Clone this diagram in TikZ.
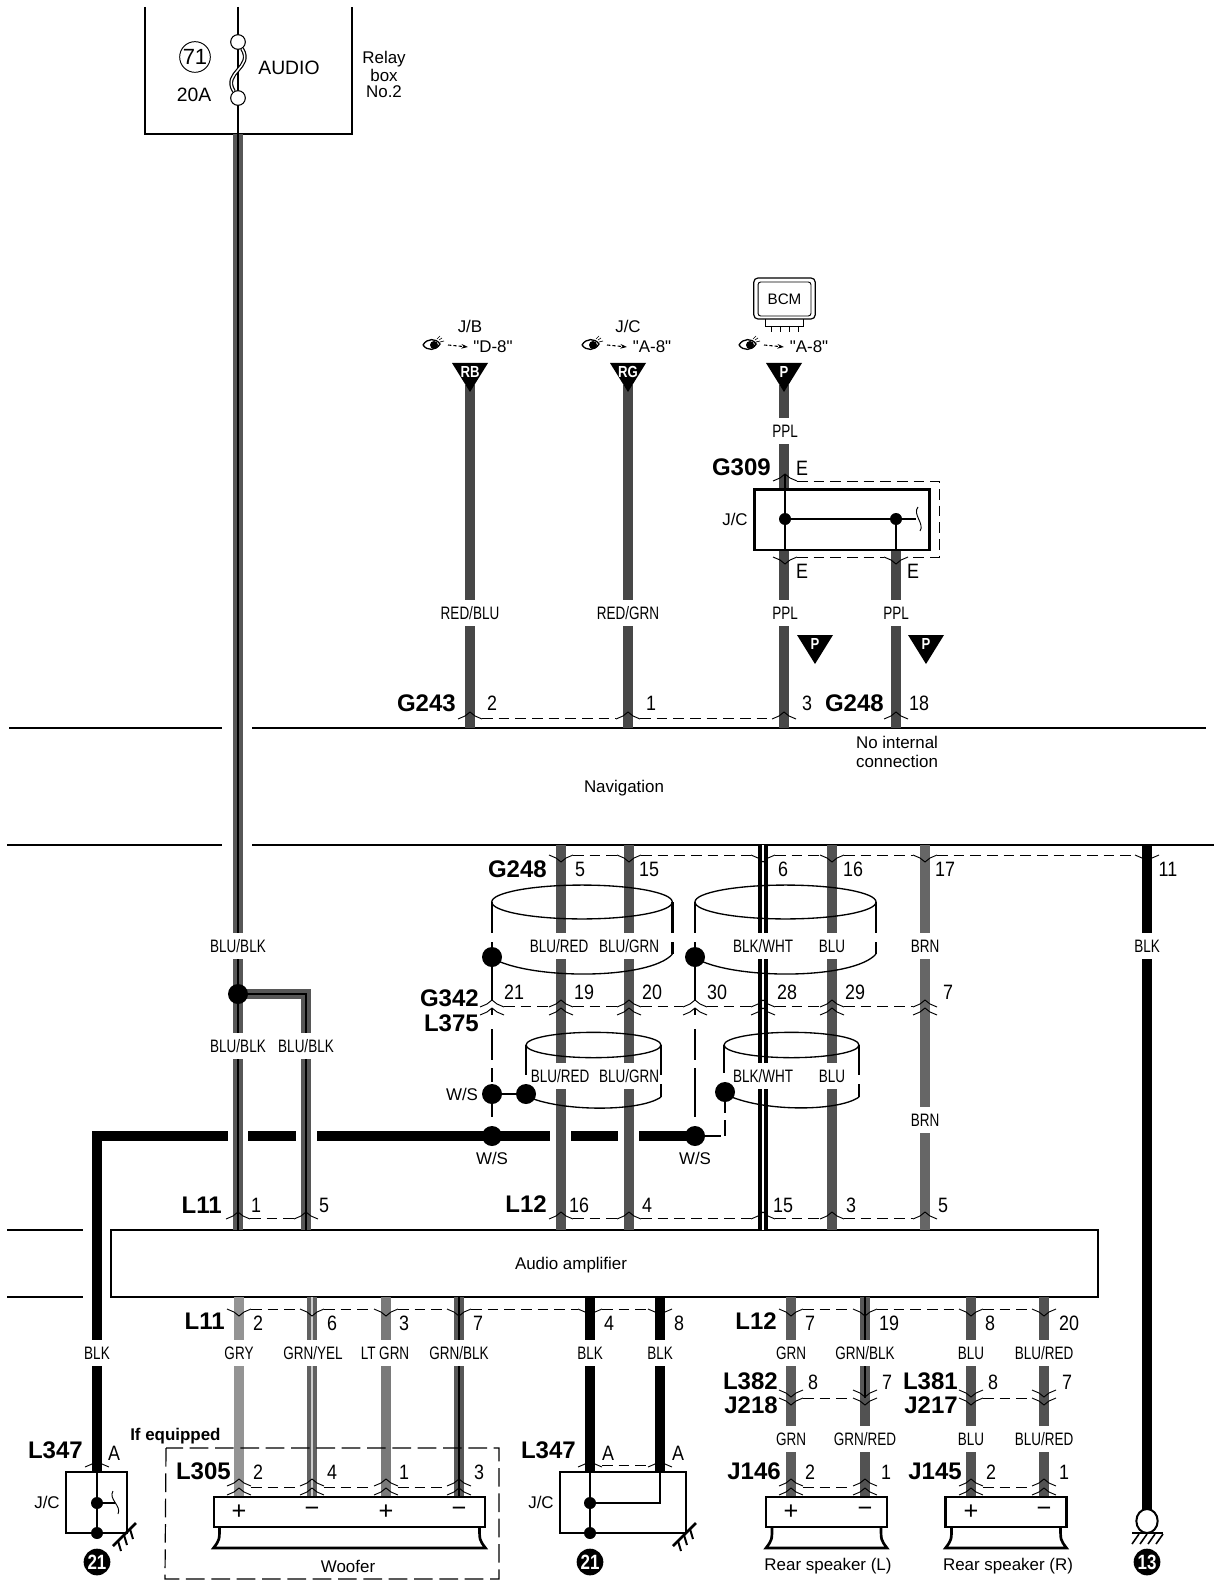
\documentclass[tikz,border=0pt]{standalone}
\usepackage{fontspec}
\usetikzlibrary{arrows.meta,shapes.geometric}
\setmainfont{Liberation Sans}
\newfontfamily\plainf{Liberation Sans}
\newfontfamily\narrowf[FakeStretch=0.75]{Liberation Sans}
\newfontfamily\numf[FakeStretch=0.86]{Liberation Sans}
\newfontfamily\badgef[FakeStretch=0.82]{Liberation Sans}
\newcommand{\fsz}[1]{\fontsize{#1}{#1}\selectfont}
\newcounter{nn}
\tikzset{
  wblue/.style={line width=8.2pt,draw=black!68},
  wppl/.style={line width=8.2pt,draw=black!72},
  wbrn/.style={line width=8.2pt,draw=black!60},
  wgrn/.style={line width=8.2pt,draw=black!64},
  wgry/.style={line width=8.2pt,draw=black!42},
  wlt/.style={line width=8.2pt,draw=black!52},
  wblk/.style={line width=8pt,draw=black},
  wstripe/.style={line width=3.1pt,draw=black!66,double=black,double distance=2pt},
  wwhite/.style={line width=3.2pt,draw=black,double=white,double distance=1.6pt},
  wyel/.style={line width=3.3pt,draw=black!62,double=black!20,double distance=1.4pt},
  wthin/.style={line width=1pt,draw=black},
  chev/.style={line width=.7pt,draw=black},
  dashc/.style={line width=.7pt,draw=black,dash pattern=on 8pt off 4.5pt},
  side/.style={line width=1.8pt,draw=black},
  shell/.style={line width=1pt,draw=black},
  boxl/.style={line width=2pt,draw=black},
  rule/.style={line width=1.5pt,draw=black},
  wlab/.style={fill=white,inner xsep=1pt,inner ysep=0pt,minimum height=19.5pt,font=\narrowf\fsz{13.5pt}},
  nlab/.style={inner sep=0pt,font=\numf\fsz{15.6pt}},
  blab/.style={inner sep=0pt,anchor=east,font=\bfseries\fsz{18pt}},
  tlab/.style={inner sep=0pt,font=\fsz{12.7pt},align=center},
  bigdot/.style={circle,fill=black,inner sep=0pt,minimum size=15pt},
  smalldot/.style={circle,fill=black,inner sep=0pt,minimum size=9pt},
  badge/.style={circle,fill=black,text=white,inner sep=0pt,minimum size=20pt,font=\badgef\bfseries\fsz{15.5pt}},
}
\newcommand{\wire}[5]{\coordinate (#1a) at (#3,#4);\coordinate (#1b) at (#3,#5);\draw[#2] (#1a) -- (#1b);}
\newcommand{\lab}[3]{\stepcounter{nn}\node[wlab] (lab\arabic{nn}) at (#1,#2) {#3};}
\newcommand{\nlabel}[3]{\stepcounter{nn}\node[nlab] (num\arabic{nn}) at (#1,#2) {#3};}
\newcommand{\blabel}[3]{\stepcounter{nn}\node[blab] (bold\arabic{nn}) at (#1,#2) {#3};}
\newcommand{\tlabel}[3]{\stepcounter{nn}\node[tlab] (txt\arabic{nn}) at (#1,#2) {#3};}
\newcommand{\chevup}[2]{\begin{scope}[shift={(#1,#2)}]\draw[chev] (-12,7) -- (-5,4) -- (0,0) -- (5,4) -- (12,7);\end{scope}}
\newcommand{\chevdn}[2]{\begin{scope}[shift={(#1,#2)}]\draw[chev] (-12,-7) -- (-5,-4) -- (0,0) -- (5,-4) -- (12,-7);\end{scope}}
\newcommand{\conn}[3]{\stepcounter{nn}\coordinate (ca\arabic{nn}) at ({#1+12},#3);\coordinate (cb\arabic{nn}) at ({#2-12},#3);\draw[dashc] (ca\arabic{nn}) -- (cb\arabic{nn});}
\newcommand{\eyemark}[1]{\begin{scope}[shift={#1}]
  \draw[line width=1pt,fill=white] (-9,0) .. controls (-5,-7) and (4,-7) .. (8,-1) .. controls (4,6) and (-5,6) .. (-9,0);
  \fill (2,0) circle[radius=3pt];
  \draw[line width=.5pt] (5,-6) -- (8,-9) (7,-5) -- (10,-7) (8,-3) -- (12,-4);
  \draw[-{Stealth[length=5pt,width=3.5pt]},line width=.8pt,dash pattern=on 2.5pt off 1.5pt] (16,0) -- (36,2);
\end{scope}}
\newcommand{\hatchmark}[1]{\begin{scope}[shift={#1}]
  \draw[line width=1.9pt] (0,0) -- (23,-23);
  \draw[line width=1.5pt] (5,-5) -- (8,5) (11,-11) -- (14,-1) (17,-17) -- (20,-7);
\end{scope}}
\newcommand{\cone}[2]{\draw[boxl] ({#1+6},1527) .. controls ({#1+6},1540) .. (#1,1548) -- (#2,1548) .. controls ({#2-6},1540) .. ({#2-6},1527);}
\newcommand{\tri}[3]{\stepcounter{nn}\fill (#1-18,#2) -- (#1+18,#2) -- (#1,#2+29) -- cycle;\node[inner sep=0pt,text=white,font=\badgef\bfseries\fsz{12pt}] (tri\arabic{nn}) at (#1,#2+9) {#3};}
\begin{document}
\begin{tikzpicture}[x=.75pt,y=-.75pt]
\useasboundingbox (0,0) rectangle (1214,1590);
\fill[white] (0,0) rectangle (1214,1590);

% ---- horizontal rules
\draw[rule] (9,728) -- (222,728) (252,728) -- (1206,728);
\draw[rule] (7,845) -- (222,845) (252,845) -- (1214,845);
\draw[rule] (7,1230) -- (83,1230) (7,1297) -- (83,1297);
\node[draw=black,line width=1.5pt,fill=white,inner sep=0pt,minimum width=740pt,minimum height=50.2pt] (amp) at (604.5,1263.5) {};
\node[tlab] (amptext) at (571,1265) {Audio amplifier};
\tlabel{624}{788}{Navigation}
\tlabel{897}{752}{No internal\\[1pt]connection}

% ---- relay box
\coordinate (rbl) at (145,7);\coordinate (rbr) at (352,7);
\draw[boxl] (rbl) -- (145,134) -- (352,134) -- (rbr);
\wire{main}{wstripe}{238}{134}{1230}
\coordinate (fa) at (238,7);\coordinate (fb) at (238,134);
\draw[line width=.9pt] (fa) -- (fb);
\node[circle,draw=black,fill=white,line width=.8pt,inner sep=0pt,minimum size=11pt] (fu1) at (238,42) {};
\node[circle,draw=black,fill=white,line width=.8pt,inner sep=0pt,minimum size=11pt] (fu2) at (238,98) {};
\draw[line width=.9pt,double=white,double distance=1.1pt] (fu1) .. controls (254,68) and (222,72) .. (fu2);
\node[circle,draw=black,line width=.7pt,inner sep=0pt,minimum size=23pt,font=\fsz{16.5pt}] (f71) at (195,57) {71};
\node[inner sep=0pt,font=\fsz{14.5pt}] (f20) at (194,95) {20A};
\node[inner sep=0pt,font=\fsz{14.5pt}] (fau) at (289,68) {AUDIO};
\tlabel{384}{59}{Relay}\tlabel{384}{75}{box}\tlabel{384}{92}{No.2}

% ---- branch
\coordinate (brA) at (238,994);\coordinate (brB) at (306,994);\coordinate (brC) at (306,1230);
\draw[wstripe] (brA) -- (brB) -- (brC);

% ---- thick black
\coordinate (k0) at (97,1472);\coordinate (k1) at (97,1136);\coordinate (k2) at (228,1136);
\draw[wblk] (k0) -- (k1) -- (k2);
\coordinate (k3) at (248,1136);\coordinate (k4) at (296,1136);\draw[wblk] (k3) -- (k4);
\coordinate (k5) at (317,1136);\coordinate (k6) at (550,1136);\draw[wblk] (k5) -- (k6);
\coordinate (k7) at (571,1136);\coordinate (k8) at (618,1136);\draw[wblk] (k7) -- (k8);
\coordinate (k9) at (639,1136);\coordinate (k10) at (695,1136);\draw[wblk] (k9) -- (k10);

% ---- upper wires
\wire{rb}{wppl}{470}{385}{728}
\wire{rg}{wppl}{628}{385}{728}
\wire{pa}{wppl}{784}{385}{489}
\wire{pb}{wppl}{784}{550}{728}
\wire{pc}{wppl}{896}{550}{728}
\tri{470}{363}{RB}\tri{628}{363}{RG}\tri{784}{363}{P}
\tri{815}{635}{P}\tri{926}{635}{P}

% ---- middle wires
\wire{m1}{wblue}{561}{845}{1230}
\wire{m2}{wblue}{629}{845}{1230}
\wire{m3}{wwhite}{763}{845}{1230}
\wire{m4}{wblue}{832}{845}{1230}
\wire{m5}{wbrn}{925}{845}{1230}
\wire{m6}{wblk}{1147}{845}{1510}

% ---- lower wires
\wire{l1}{wgry}{239}{1297}{1497}
\wire{l2}{wyel}{312}{1297}{1497}
\wire{l3}{wlt}{386}{1297}{1497}
\wire{l4}{wstripe}{459}{1297}{1497}
\wire{l5}{wblk}{590}{1297}{1472}
\wire{l6}{wblk}{660}{1297}{1472}
\wire{l7}{wgrn}{791}{1297}{1497}
\wire{l8b}{wblue}{865}{1398}{1497}
\wire{l8a}{wstripe}{865}{1297}{1398}
\wire{l9}{wblue}{971}{1297}{1497}
\wire{l10}{wblue}{1044}{1297}{1497}

% ---- wire labels
\lab{470}{613}{RED/BLU}\lab{628}{613}{RED/GRN}\lab{785}{613}{PPL}\lab{896}{613}{PPL}\lab{785}{431}{PPL}
\lab{238}{946}{BLU/BLK}\lab{238}{1046}{BLU/BLK}\lab{306}{1046}{BLU/BLK}
\lab{559}{946}{BLU/RED}\lab{629}{946}{BLU/GRN}\lab{763}{946}{BLK/WHT}\lab{832}{946}{BLU}\lab{925}{946}{BRN}\lab{1147}{946}{BLK}
\lab{560}{1076}{BLU/RED}\lab{629}{1076}{BLU/GRN}\lab{763}{1076}{BLK/WHT}\lab{832}{1076}{BLU}\lab{925}{1120}{BRN}
\lab{97}{1353}{BLK}\lab{239}{1353}{GRY}\lab{313}{1353}{GRN/YEL}\lab{385}{1353}{LT GRN}\lab{459}{1353}{GRN/BLK}
\lab{590}{1353}{BLK}\lab{660}{1353}{BLK}\lab{791}{1353}{GRN}\lab{865}{1353}{GRN/BLK}\lab{971}{1353}{BLU}\lab{1044}{1353}{BLU/RED}
\lab{791}{1439}{GRN}\lab{865}{1439}{GRN/RED}\lab{971}{1439}{BLU}\lab{1044}{1439}{BLU/RED}

% ---- J/C G309
\node[draw=black,line width=2.2pt,fill=white,inner sep=0pt,minimum width=131pt,minimum height=45.7pt] (jc) at (842,519.5) {};
\node[smalldot] (jd1) at (785,519) {};
\node[smalldot] (jd2) at (896,519) {};
\coordinate (jt1) at (785,474);\coordinate (jb1) at (785,550);\coordinate (jb2) at (896,550);
\draw[line width=.8pt] (jt1) -- (jb1) (jd1) -- (jd2) (jd2) -- (jb2);
\coordinate (jt) at (916,519);\draw[line width=.8pt] (jd2) -- (jt);
\draw[line width=.7pt] (918,507) .. controls (912,514) and (925,524) .. (920,531);
\tlabel{735}{519}{J/C}
\chevup{785}{474}\chevdn{785}{564}\chevdn{896}{564}
\coordinate (d1) at (797,481);\coordinate (d2) at (939,481);\coordinate (d3) at (939,557);\coordinate (d4) at (908,557);
\draw[dashc] (d1) -- (d2) -- (d3) -- (d4);
\conn{785}{896}{557}
\nlabel{802}{468}{E}\nlabel{802}{571}{E}\nlabel{913}{571}{E}
\blabel{771}{467}{G309}

% ---- BCM
\node[draw=black,line width=.9pt,rounded corners=3pt,inner sep=0pt,minimum width=46pt,minimum height=30.7pt] (bcm) at (784.5,298.5) {};
\node[draw=black,line width=.7pt,rounded corners=2pt,inner sep=0pt,minimum width=39.7pt,minimum height=25.5pt,font=\fsz{11.4pt}] (bcmi) at (784.5,299) {\raisebox{-1.5pt}{BCM}};
\coordinate (ta) at (765,319);\coordinate (tb) at (803.5,319);
\draw[line width=.7pt] (ta) -- (765,326) -- (803.5,326) -- (tb);
\foreach \x in {771,780,789,798}{\coordinate (pinA) at (\x,326);\coordinate (pinB) at (\x,332);\draw[line width=.5pt] (pinA) -- (pinB);}
\eyemark{(432,345)}\eyemark{(591,345)}\eyemark{(748,345)}
\tlabel{470}{326}{J/B}\tlabel{628}{326}{J/C}
\tlabel{493}{347}{\plainf "D-8"}\tlabel{652}{347}{\plainf "A-8"}\tlabel{809}{347}{\plainf "A-8"}

% ---- connectors upper
\chevup{470}{712}\chevup{628}{712}\chevup{784}{712}\chevup{896}{712}
\conn{470}{628}{718}\conn{628}{784}{718}
\nlabel{492}{703}{2}\nlabel{651}{703}{1}\nlabel{807}{703}{3}\nlabel{919}{703}{18}
\blabel{456}{703}{G243}\blabel{884}{703}{G248}

% ---- G248 lower
\foreach \x in {561,629,763,832,925,1147}{\chevdn{\x}{862}}
\conn{561}{629}{855}\conn{629}{763}{855}\conn{763}{832}{855}\conn{832}{925}{855}\conn{925}{1147}{855}
\nlabel{580}{869}{5}\nlabel{649}{869}{15}\nlabel{783}{869}{6}\nlabel{853}{869}{16}\nlabel{945}{869}{17}\nlabel{1168}{869}{11}
\blabel{547}{869}{G248}

% ---- shields
\draw[shell] (582,902) ellipse[x radius=67.7pt,y radius=12.7pt];
\draw[shell] (785.5,902) ellipse[x radius=67.9pt,y radius=12.7pt];
\draw[side] (492,902) -- (492,933) (492,942) -- (492,957);
\draw[side] (672.5,902) -- (672.5,933) (672.5,942) -- (672.5,954);
\draw[side] (695,902) -- (695,933) (695,942) -- (695,957);
\draw[side] (876,902) -- (876,933) (876,942) -- (876,954);
\draw[shell] (492,958) .. controls (530,980) and (650,980) .. (672.5,954);
\draw[shell] (695,958) .. controls (733,980) and (853,980) .. (876,954);
\draw[shell] (593.5,1045) ellipse[x radius=50.6pt,y radius=9.5pt];
\draw[shell] (791.5,1045) ellipse[x radius=50.6pt,y radius=9.5pt];
\draw[side] (526,1045) -- (526,1075) (661,1045) -- (661,1075) (661,1084) -- (661,1097);
\draw[side] (724,1045) -- (724,1073) (859,1045) -- (859,1075) (859,1084) -- (859,1097);
\draw[shell] (526,1096) .. controls (560,1112) and (640,1112) .. (661,1097);
\draw[shell] (725,1094) .. controls (760,1112) and (838,1112) .. (859,1097);

% ---- G342/L375
\foreach \x in {492,561,629,695,763,832,925}{\chevup{\x}{1000}\chevup{\x}{1008}}
\conn{492}{561}{1006}\conn{561}{629}{1006}\conn{629}{695}{1006}\conn{695}{763}{1006}\conn{763}{832}{1006}\conn{832}{925}{1006}
\nlabel{514}{992}{21}\nlabel{584}{992}{19}\nlabel{652}{992}{20}\nlabel{717}{992}{30}\nlabel{787}{992}{28}\nlabel{855}{992}{29}\nlabel{948}{992}{7}
\blabel{479}{998}{G342}\blabel{479}{1023}{L375}

% ---- drain lines
\node[bigdot] (dA) at (492,957) {};
\node[bigdot] (dB) at (695,957) {};
\node[bigdot] (dC) at (492,1094) {};
\node[bigdot] (dD) at (526,1094) {};
\node[bigdot] (dE) at (725,1092) {};
\node[bigdot] (dF) at (492,1136) {};
\node[bigdot] (dG) at (695,1136) {};
\coordinate (e1) at (492,1000);\coordinate (e2) at (695,1000);
\draw[line width=1.3pt] (dA) -- (e1) (dB) -- (e2);
\draw[side] (dC) -- (dD);
\draw[side] (492,1008) -- (492,1015) (492,1029) -- (492,1060) (492,1068) -- (492,1082);
\draw[side] (695,1008) -- (695,1015) (695,1029) -- (695,1060) (695,1068) -- (695,1117);
\draw[side] (dC) -- (492,1117);
\coordinate (g1) at (721,1136);\draw[line width=1.3pt] (dG) -- (g1);
\draw[side] (725,1102) -- (725,1113) (725,1120) -- (725,1136);
\tlabel{462}{1094}{W/S}\tlabel{492}{1158}{W/S}\tlabel{695}{1158}{W/S}

% ---- L11 junction
\node[bigdot] (jm) at (238,994) {};

% ---- L11 / L12 above amp
\foreach \x in {238,306,561,629,763,832,925}{\chevup{\x}{1212}}
\conn{238}{306}{1218}\conn{561}{629}{1218}\conn{629}{763}{1218}\conn{763}{832}{1218}\conn{832}{925}{1218}
\nlabel{256}{1205}{1}\nlabel{324}{1205}{5}\nlabel{579}{1205}{16}\nlabel{647}{1205}{4}\nlabel{783}{1205}{15}\nlabel{851}{1205}{3}\nlabel{943}{1205}{5}
\blabel{222}{1205}{L11}\blabel{547}{1204}{L12}

% ---- below amp
\foreach \x in {239,312,386,459,590,660,791,865,971,1044}{\chevdn{\x}{1316}}
\conn{239}{312}{1309}\conn{312}{386}{1309}\conn{386}{459}{1309}\conn{459}{590}{1309}\conn{590}{660}{1309}
\conn{791}{865}{1309}\conn{865}{971}{1309}\conn{971}{1044}{1309}
\nlabel{258}{1323}{2}\nlabel{332}{1323}{6}\nlabel{404}{1323}{3}\nlabel{478}{1323}{7}\nlabel{609}{1323}{4}\nlabel{679}{1323}{8}\nlabel{810}{1323}{7}\nlabel{889}{1323}{19}\nlabel{990}{1323}{8}\nlabel{1069}{1323}{20}
\blabel{225}{1321}{L11}\blabel{777}{1321}{L12}

% ---- J218 etc
\foreach \x in {791,865,971,1044}{\chevdn{\x}{1397}\chevdn{\x}{1405}}
\conn{791}{865}{1398}\conn{971}{1044}{1398}
\nlabel{813}{1382}{8}\nlabel{887}{1382}{7}\nlabel{993}{1382}{8}\nlabel{1067}{1382}{7}
\blabel{778}{1381}{L382}\blabel{778}{1405}{J218}\blabel{958}{1381}{L381}\blabel{958}{1405}{J217}

% ---- L347 left
\chevup{97}{1460}
\node[draw=black,line width=1.9pt,inner sep=0pt,minimum width=45.7pt,minimum height=45.7pt] (jcl) at (96.5,1502.5) {};
\node[smalldot] (ld1) at (97,1503) {};
\node[smalldot] (ld2) at (97,1533) {};
\coordinate (lt) at (97,1472);\coordinate (ls) at (115,1503);
\draw[line width=.8pt] (lt) -- (ld2) (ld1) -- (ls);
\draw[line width=.7pt] (113,1491) .. controls (108,1499) and (122,1506) .. (118,1514);
\hatchmark{(113,1546)}
\node[badge] (b21a) at (97,1562) {21};
\tlabel{47}{1502}{J/C}\nlabel{114}{1453}{A}
\blabel{83}{1450}{L347}

% ---- L347 right
\chevup{590}{1460}\chevup{660}{1460}
\conn{590}{660}{1465}
\node[draw=black,line width=1.9pt,inner sep=0pt,minimum width=94.5pt,minimum height=45.7pt] (jcr) at (623,1502.5) {};
\node[smalldot] (rd1) at (590,1503) {};
\node[smalldot] (rd2) at (590,1533) {};
\coordinate (rt1) at (590,1472);\coordinate (rt2) at (660,1472);
\draw[line width=.8pt] (rt1) -- (rd2) (rt2) -- (660,1503) -- (rd1);
\hatchmark{(673,1546)}
\node[badge] (b21b) at (590,1562) {21};
\tlabel{541}{1502}{J/C}\nlabel{608}{1453}{A}\nlabel{678}{1453}{A}
\blabel{576}{1450}{L347}

% ---- woofer
\node[draw=black,line width=1.9pt,fill=white,inner sep=0pt,minimum width=203.5pt,minimum height=22.5pt] (wf) at (349.5,1512) {};
\cone{213.5}{485.5}
\foreach \x in {239,312,386,459}{\chevup{\x}{1479}\chevup{\x}{1488}}
\conn{239}{312}{1487}\conn{312}{386}{1487}\conn{386}{459}{1487}
\node[nlab,font=\fsz{19pt}] (pa) at (239,1512) {+};
\node[nlab,font=\fsz{19pt}] (pb) at (312,1512) {−};
\node[nlab,font=\fsz{19pt}] (pc) at (386,1512) {+};
\node[nlab,font=\fsz{19pt}] (pd) at (459,1512) {−};
\nlabel{258}{1472}{2}\nlabel{332}{1472}{4}\nlabel{404}{1472}{1}\nlabel{479}{1472}{3}
\blabel{231}{1471}{L305}
\tlabel{348}{1566}{Woofer}
\node[inner sep=0pt,anchor=west,font=\bfseries\fsz{12.7pt}] (ifeq) at (130,1436) {If equipped};
\coordinate (dr1) at (166,1448);\coordinate (dr2) at (165,1579);\coordinate (dr3) at (499,1579);\coordinate (dr4) at (499,1448);
\draw[line width=.9pt,dash pattern=on 14pt off 5pt] (dr1) -- (dr2) -- (dr3) -- (dr4) -- cycle;

% ---- speakers
\node[draw=black,line width=1.9pt,fill=white,inner sep=0pt,minimum width=90.7pt,minimum height=22.5pt] (spl) at (826.5,1512) {};
\node[draw=black,line width=1.9pt,fill=white,inner sep=0pt,minimum width=90.7pt,minimum height=22.5pt] (spr) at (1006,1512) {};
\cone{766}{887}\cone{945.5}{1066.5}
\foreach \x in {791,865,971,1044}{\chevup{\x}{1479}\chevup{\x}{1488}}
\conn{791}{865}{1487}\conn{971}{1044}{1487}
\node[nlab,font=\fsz{19pt}] (pe) at (791,1512) {+};
\node[nlab,font=\fsz{19pt}] (pf) at (865,1512) {−};
\node[nlab,font=\fsz{19pt}] (pg) at (971,1512) {+};
\node[nlab,font=\fsz{19pt}] (ph) at (1044,1512) {−};
\nlabel{810}{1472}{2}\nlabel{886}{1472}{1}\nlabel{991}{1472}{2}\nlabel{1064}{1472}{1}
\blabel{781}{1471}{J146}\blabel{962}{1471}{J145}
\tlabel{828}{1566}{Rear speaker (L)}\tlabel{1008}{1566}{Rear speaker (R)}

% ---- ground 13
\node[draw=black,line width=1.5pt,fill=white,inner sep=0pt,minimum width=16pt,minimum height=18pt,ellipse] (g13) at (1147,1521) {};
\coordinate (gb1) at (1132,1533);\coordinate (gb2) at (1163,1533);
\draw[line width=2.2pt] (gb1) -- (gb2);
\foreach \x in {1139,1147,1155,1163}{\coordinate (hA) at (\x,1534);\coordinate (hB) at (\x-7,1544);\draw[line width=1.2pt] (hA) -- (hB);}
\node[badge] (b13) at (1147,1562) {13};
\end{tikzpicture}
\end{document}
